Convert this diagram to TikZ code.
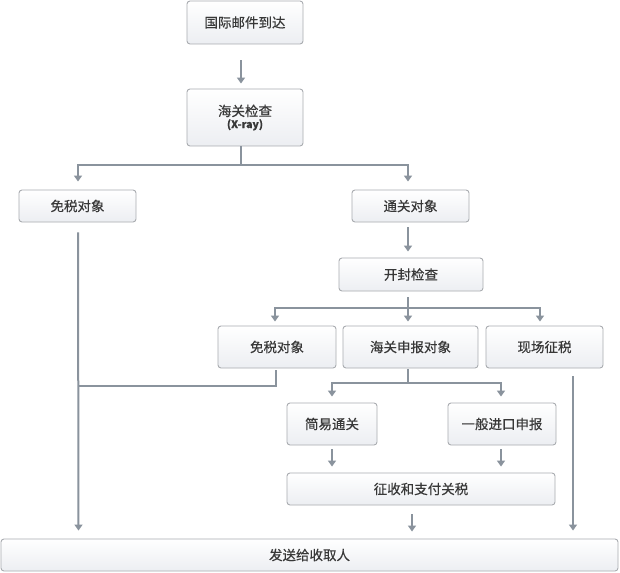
\documentclass[tikz,border=0pt]{standalone}
\usepackage{fontspec}
\setmainfont{Noto Sans CJK SC}
\newfontfamily\boxfont{Noto Sans CJK SC}[FakeBold=0.4]
\usetikzlibrary{arrows.meta,calc}
\definecolor{linegray}{HTML}{8A939D}
\definecolor{boxborder}{HTML}{A9ACB0}
\definecolor{boxbottom}{HTML}{ECEEF2}
\definecolor{txt}{HTML}{383838}
\tikzset{
  box/.style={draw=boxborder, line width=0.9pt, rounded corners=3pt,
    top color=white, bottom color=boxbottom, text=txt,
    font=\boxfont\fontsize{13.5}{15}\selectfont, inner sep=0pt, align=center},
  conn/.style={draw=linegray, line width=2pt},
  arr/.style={conn, -{Triangle[width=8pt,length=6pt]}},
}
\begin{document}
\begin{tikzpicture}[x=1pt,y=-1pt]
\useasboundingbox (0,0) rectangle (620,572);
\fill[white] (0,0) rectangle (620,572);
% boxes
\node[box, minimum width=116pt, minimum height=43pt] (a) at (245,22.5) {国际邮件到达};
\node[box, minimum width=116pt, minimum height=57pt] (b) at (245,117.5) {海关检查\\[-3pt]{\fontsize{10.5}{12}\selectfont\bfseries (X-ray)}};
\node[box, minimum width=117pt, minimum height=32pt] (c) at (77.5,206) {免税对象};
\node[box, minimum width=117pt, minimum height=32pt] (d) at (410.5,206) {通关对象};
\node[box, minimum width=144pt, minimum height=33pt] (e) at (411,274.5) {开封检查};
\node[box, minimum width=118pt, minimum height=42pt] (f) at (277,347) {免税对象};
\node[box, minimum width=135pt, minimum height=42pt] (g) at (410.5,347) {海关申报对象};
\node[box, minimum width=117pt, minimum height=42pt] (h) at (544.5,347) {现场征税};
\node[box, minimum width=90pt, minimum height=42pt] (i) at (332,424) {简易通关};
\node[box, minimum width=108pt, minimum height=42pt] (j) at (502,424) {一般进口申报};
\node[box, minimum width=268pt, minimum height=32pt] (k) at (421,489) {征收和支付关税};
\node[box, minimum width=617pt, minimum height=32pt] (l) at (309.5,555) {发送给收取人};
% junction coordinates
\coordinate (jb) at ($(b.south)+(-4,19)$);
\coordinate (je) at ($(e.south)+(-3,17)$);
\coordinate (jg) at ($(g.south)+(-2.5,15)$);
\coordinate (jf) at ($(f.south)+(-1,18)$);
\coordinate (cs) at ($(c.south)+(0.5,0)$);
\coordinate (jc) at (cs |- jf);
% connectors
\draw[arr] ($(a.south)+(-4,16)$) -- ($(b.north)+(-4,-5)$);
\draw[conn] ($(b.south)+(-4,0)$) -- (jb);
\draw[arr] (jb) -| ($(c.north)+(0.5,-8)$);
\draw[arr] (jb) -| ($(d.north)+(-2.5,-8)$);
\draw[arr] ($(d.south)+(-2.5,5)$) -- ($(e.north)+(-3,-6)$);
\draw[conn] ($(e.south)+(-3,6)$) -- (je);
\draw[arr] (je) -| ($(f.north)+(-2,-4)$);
\draw[arr] (je) -- ($(g.north)+(-2.5,-4)$);
\draw[arr] (je) -| ($(h.north)+(-4.5,-4)$);
\draw[arr] ($(c.south)+(0.5,10)$) -- ($(l.north)+(-231,-8)$);
\draw[conn] ($(f.south)+(-1,2)$) -- (jf) -- (jc);
\draw[conn] ($(g.south)+(-2.5,1)$) -- (jg);
\draw[arr] (jg) -| ($(i.north)+(0,-6)$);
\draw[arr] (jg) -| ($(j.north)+(-1,-6)$);
\draw[arr] ($(i.south)+(0,4)$) -- ($(k.north)+(-89,-6)$);
\draw[arr] ($(j.south)+(-1,4)$) -- ($(k.north)+(80,-6)$);
\draw[arr] ($(k.south)+(-9,9)$) -- ($(l.north)+(102.5,-7)$);
\draw[arr] ($(h.south)+(28.5,8)$) -- ($(l.north)+(263.5,-8)$);
\end{tikzpicture}
\end{document}
